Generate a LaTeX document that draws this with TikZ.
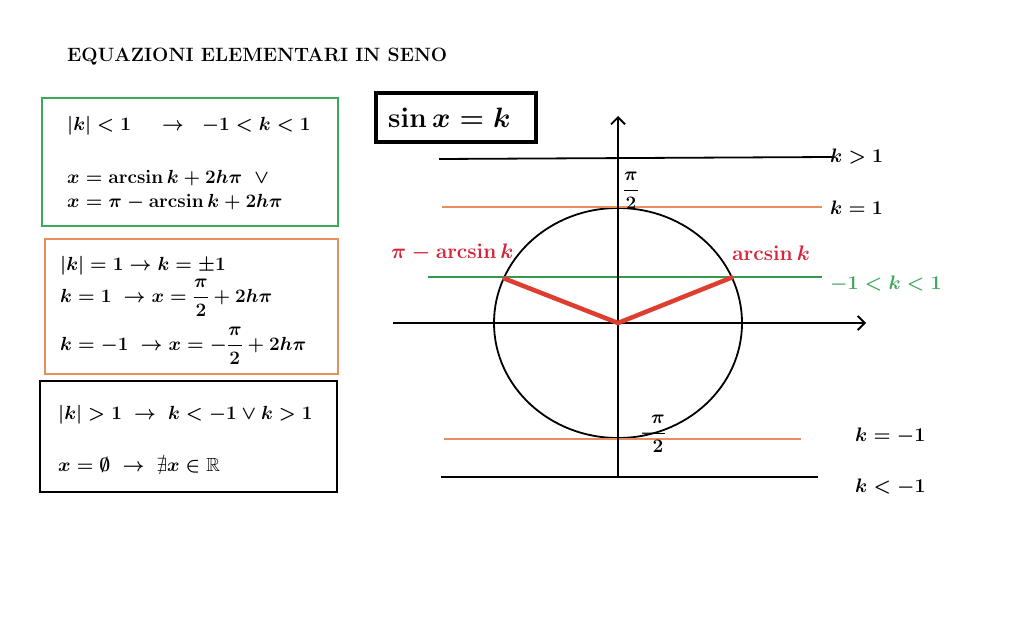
\RequirePackage{fix-cm}
\documentclass[tikz,border=0pt]{standalone}
\usepackage{amsmath,amssymb}
\usetikzlibrary{arrows.meta}
\definecolor{gbox}{RGB}{60,168,90}
\definecolor{obox}{RGB}{232,142,92}
\definecolor{rline}{RGB}{222,62,48}
\definecolor{rtext}{RGB}{214,36,56}
\begin{document}
\begin{tikzpicture}[x=1pt,y=-1pt,
  mtext/.style={anchor=west,inner sep=0pt,font=\fontsize{19}{22}\selectfont\boldmath},
  lbl/.style={anchor=west,inner sep=0pt,font=\fontsize{19.5}{22}\selectfont\boldmath},
  rlbl/.style={anchor=west,inner sep=0pt,text=rtext,font=\fontsize{21}{24}\selectfont\boldmath},
  axis/.style={line width=1.8pt,-{Straight Barb[length=7pt,width=14pt,line width=1.8pt]}},
  hline/.style={line width=1.8pt},
  oline/.style={line width=2pt,obox},
  gline/.style={line width=2pt,gbox!90!black},
  rseg/.style={line width=4.5pt,rline},
  boxg/.style={draw=gbox,line width=2.2pt},
  boxo/.style={draw=obox,line width=2.2pt},
  boxk/.style={draw=black,line width=2.2pt}]
\useasboundingbox (0,0) rectangle (1024,628);
\fill[white] (0,0) rectangle (1024,628);

% title
\node[anchor=west,inner sep=0pt,font=\fontsize{19.3}{22}\selectfont\bfseries] (title) at (67,57) {EQUAZIONI ELEMENTARI IN SENO};

% green box
\draw[boxg] (42,98) rectangle (338,226);
\node[mtext] (g1) at (67,126) {$|k|<1\quad\;\to\;\;-1<k<1$};
\node[mtext] (g2) at (67,178) {$x=\arcsin k+2h\pi\;\;\vee$};
\node[mtext] (g3) at (67,202) {$x=\pi-\arcsin k+2h\pi$};

% orange box
\draw[boxo] (45,239) rectangle (338,374);
\node[mtext] (o1) at (60,266) {$|k|=1\to k=\pm1$};
\node[mtext] (o2) at (60,298) {$k=1\;\to x=\dfrac{\pi}{2}+2h\pi$};
\node[mtext] (o3) at (60,346) {$k=-1\;\to x=-\dfrac{\pi}{2}+2h\pi$};

% black box
\draw[boxk] (40,381) rectangle (337,492);
\node[mtext] (b1) at (58,415) {$|k|>1\;\to\;k<-1\vee k>1$};
\node[mtext] (b2) at (58,465) {$x=\emptyset\;\to\;\nexists x\in\mathbb{R}$};

% sin x = k box
\draw[line width=3.5pt] (376,93) rectangle (536,142);
\node[anchor=west,inner sep=0pt,font=\fontsize{28}{32}\selectfont\boldmath] (eq) at (388,118) {$\sin x=k$};

% circle
\coordinate (O) at (618,323);
\draw[line width=1.8pt] (O) ellipse [x radius=124, y radius=115];

% horizontal lines
\coordinate (a1) at (439,159); \coordinate (a2) at (832,157);
\draw[hline] (a1) -- (a2);
\node[lbl] (kg1) at (830,157) {$k>1$};
\coordinate (b1l) at (442,207); \coordinate (b2l) at (822,207);
\draw[oline] (b1l) -- (b2l);
\node[lbl] (ke1) at (830,208) {$k=1$};
\coordinate (c1) at (428,277); \coordinate (c2) at (822,277);
\draw[gline] (c1) -- (c2);
\node[lbl,text=gbox] (kin) at (830,284) {$-1<k<1$};
\coordinate (d1) at (444,439); \coordinate (d2) at (801,439);
\draw[oline] (d1) -- (d2);
\node[lbl] (kem) at (855,436) {$k=-1$};
\coordinate (e1) at (441,477); \coordinate (e2) at (818,477);
\draw[hline] (e1) -- (e2);
\node[lbl] (klm) at (855,487) {$k<-1$};

% axes
\coordinate (xl) at (393,323); \coordinate (xr) at (866,323);
\draw[axis] (xl) -- (xr);
\coordinate (yb) at (618,478); \coordinate (yt) at (618,116);
\draw[axis] (yb) -- (yt);

% red segments
\coordinate (P) at (503,278); \coordinate (Q) at (733,277);
\draw[rseg,line join=miter] (P) -- (O) -- (Q);
\node[rlbl] (pa) at (391,253) {$\pi-\arcsin k$};
\node[rlbl] (as) at (732,253) {$\arcsin k$};

% pi/2 labels
\node[inner sep=0pt,font=\fontsize{19}{22}\selectfont\boldmath] (pt) at (631,191) {$\dfrac{\pi}{2}$};
\node[inner sep=0pt,font=\fontsize{19}{22}\selectfont\boldmath] (pb) at (653,434) {$-\!\!\dfrac{\pi}{2}$};
\end{tikzpicture}
\end{document}
